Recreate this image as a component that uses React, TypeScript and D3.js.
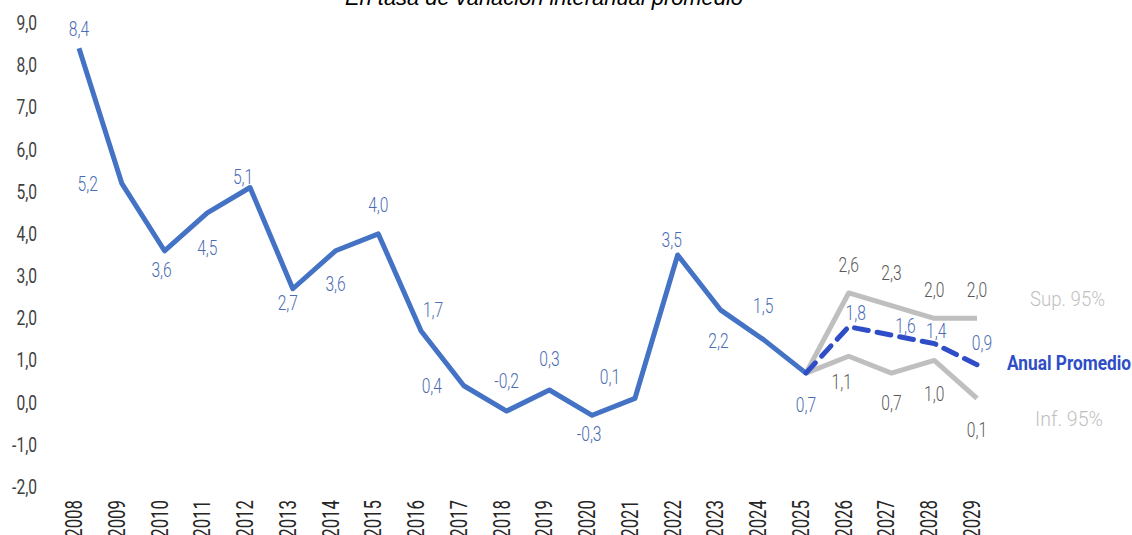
import React from 'react';
import * as d3 from 'd3';

const years = ['2008', '2009', '2010', '2011', '2012', '2013', '2014', '2015', '2016', '2017', '2018', '2019', '2020', '2021', '2022', '2023', '2024', '2025', '2026', '2027', '2028', '2029'];
const history = [8.4, 5.2, 3.6, 4.5, 5.1, 2.7, 3.6, 4.0, 1.7, 0.4, -0.2, 0.3, -0.3, 0.1, 3.5, 2.2, 1.5, 0.7];
const forecastYears = ['2025', '2026', '2027', '2028', '2029'];
const promedio = [0.7, 1.8, 1.6, 1.4, 0.9];
const sup95 = [0.7, 2.6, 2.3, 2.0, 2.0];
const inf95 = [0.7, 1.1, 0.7, 1.0, 0.1];
const yTicks = [9, 8, 7, 6, 5, 4, 3, 2, 1, 0, -1, -2];

// label offsets (dx, baseline dy) relative to each point
const histOffsets = [[0, -12], [-34, 8], [-3, 26], [0, 42], [-7, -4], [-5, 21], [0, 40], [0, -22], [12, -14], [-32, 7], [0, -23], [0, -24], [-3, 26], [-25, -14], [-6, -8], [-2, 38], [0, -26], [0, 39]];
const promOffsets = [[7, -7], [14, -2], [2, -6], [5, -15]];
const supOffsets = [[0, -21], [0, -26], [0, -21], [0, -21]];
const infOffsets = [[-7, 33], [0, 37], [0, 41], [0, 39]];

const W = 1132;
const H = 535;
const FONT = 'Roboto, "DejaVu Sans Condensed", sans-serif';
const BLUE_TXT = '#4A6CB3';
const GRAY_TXT = '#595959';

const fmt = (v: number) => v.toFixed(1).replace('.', ',');

type TProps = { x: number; y: number; size?: number; fill: string; anchor?: string; weight?: number | string; sx?: number; rotate?: number; children: React.ReactNode };

// condensed text: the reference uses a narrow face, so squeeze horizontally
const CText = ({ x, y, size = 20, fill, anchor = 'middle', weight = 300, sx = 0.78, rotate = 0, children }: TProps) => (
  <text
    transform={`translate(${x},${y}) rotate(${rotate}) scale(${sx},1)`}
    textAnchor={anchor}
    fontFamily={FONT}
    fontSize={size}
    fontWeight={weight}
    fill={fill}
  >
    {children}
  </text>
);

export default function App() {
  const x = d3.scalePoint<string>().domain(years).range([79, 977]);
  const y = d3.scaleLinear().domain([-2, 9]).range([487, 23]);
  const line = d3.line<[string, number]>().x(d => x(d[0]) as number).y(d => y(d[1]));

  const hist = years.slice(0, history.length).map((yr, i) => [yr, history[i]] as [string, number]);
  const fc = (vals: number[]) => forecastYears.map((yr, i) => [yr, vals[i]] as [string, number]);

  const labels = (pts: [string, number][], offs: number[][], fill: string, key: string) =>
    pts.map((d, i) => (
      <CText key={key + d[0]} x={(x(d[0]) as number) + offs[i][0]} y={y(d[1]) + offs[i][1]} fill={fill}>
        {fmt(d[1])}
      </CText>
    ));

  return (
    <div style={{ position: 'absolute', left: 0, top: 0 }}>
      <svg width={W} height={H} style={{ display: 'block', background: '#fff' }}>
        <text x={345} y={5} textLength={398} lengthAdjust="spacingAndGlyphs" fontFamily='"Liberation Sans", Arial, sans-serif' fontStyle="italic" fontSize={22} fill="#000">
          En tasa de variación interanual promedio
        </text>

        {yTicks.map(t => (
          <CText key={t} x={37} y={y(t) + 7} anchor="end" fill="#404040" weight={400}>
            {fmt(t)}
          </CText>
        ))}

        {years.map(yr => (
          <CText key={yr} x={(x(yr) as number) + 3} y={500} anchor="end" rotate={-90} size={24} sx={0.7} fill="#262626" weight={400}>
            {yr}
          </CText>
        ))}

        <path d={line(fc(sup95)) || ''} fill="none" stroke="#BFBFBF" strokeWidth={5} strokeLinejoin="round" />
        <path d={line(fc(inf95)) || ''} fill="none" stroke="#BFBFBF" strokeWidth={5} strokeLinejoin="round" />
        <path d={line(hist) || ''} fill="none" stroke="#4472C4" strokeWidth={5} strokeLinejoin="round" />
        <path d={line(fc(promedio)) || ''} fill="none" stroke="#2E4DC6" strokeWidth={5} strokeDasharray="14 9" strokeLinecap="round" />

        {labels(hist, histOffsets, BLUE_TXT, 'h')}
        {labels(fc(sup95).slice(1), supOffsets, GRAY_TXT, 's')}
        {labels(fc(inf95).slice(1), infOffsets, GRAY_TXT, 'i')}
        {labels(fc(promedio).slice(1), promOffsets, BLUE_TXT, 'p')}

        <text x={1030} y={306} textLength={75} lengthAdjust="spacingAndGlyphs" fontFamily={FONT} fontWeight={300} fontSize={20} fill="#BFBFBF">Sup. 95%</text>
        <text x={1007} y={370} textLength={124} lengthAdjust="spacingAndGlyphs" fontFamily={FONT} fontWeight={700} fontSize={20} fill="#2E4DC6">Anual Promedio</text>
        <text x={1035} y={426} textLength={68} lengthAdjust="spacingAndGlyphs" fontFamily={FONT} fontWeight={300} fontSize={20} fill="#BFBFBF">Inf. 95%</text>
      </svg>
    </div>
  );
}
